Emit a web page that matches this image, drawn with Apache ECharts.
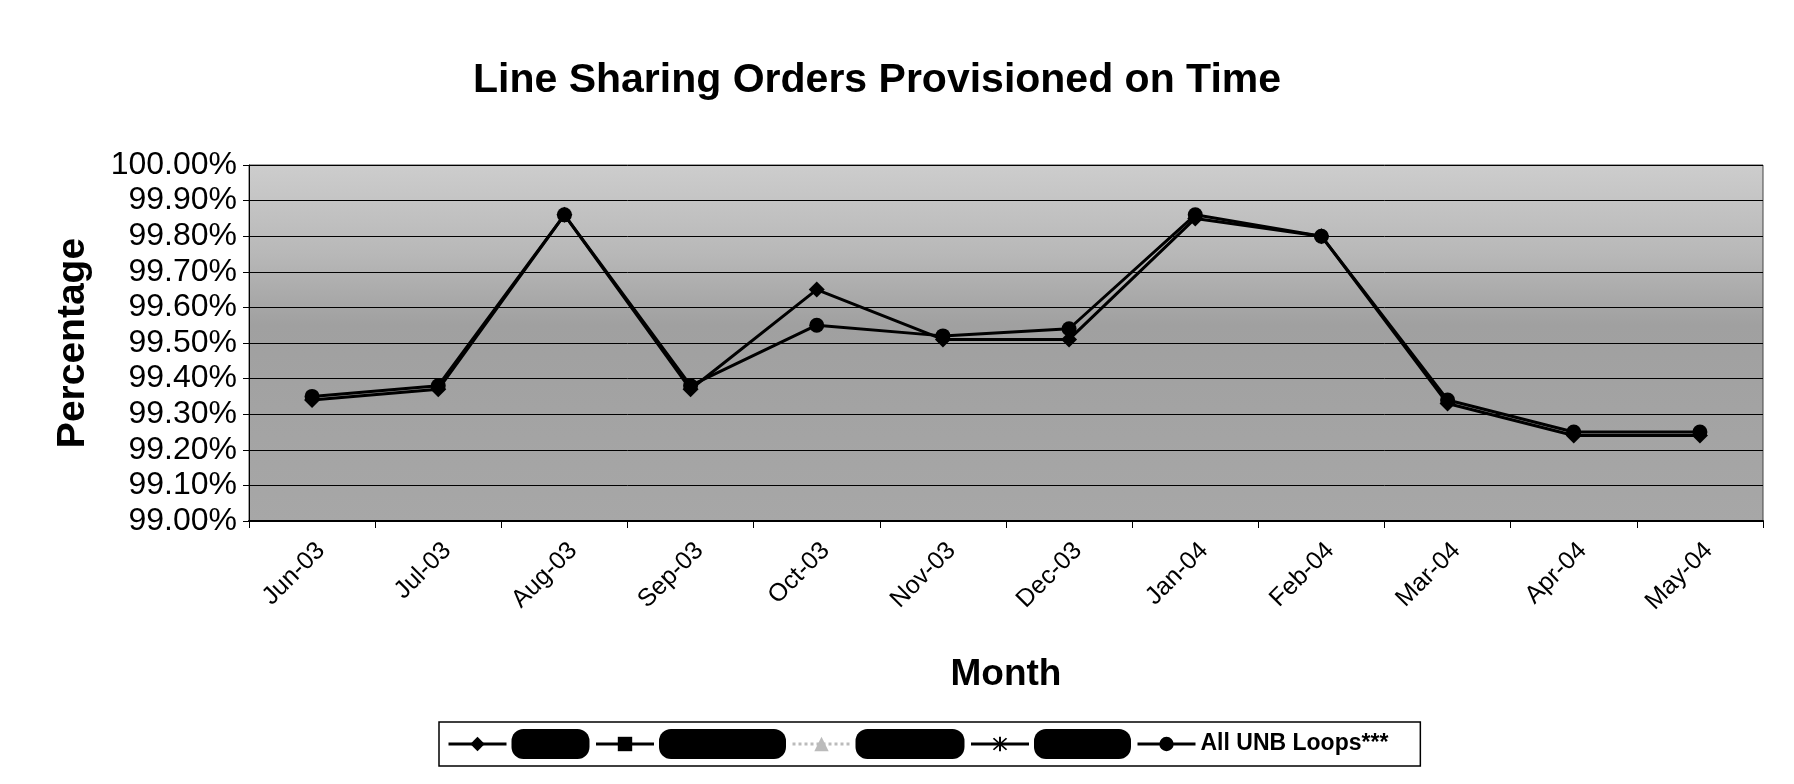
<!DOCTYPE html>
<html>
<head>
<meta charset="utf-8">
<title>Line Sharing Orders Provisioned on Time</title>
<script src="https://cdn.jsdelivr.net/npm/echarts@6/dist/echarts.min.js"></script>
<style>
    html, body { margin: 0; padding: 0; background: #fff; }
    #chart { width: 1794px; height: 784px; }
</style>
</head>
<body>
<div id="chart"></div>
<script>
// months on the x axis
var months = ['Jun-03', 'Jul-03', 'Aug-03', 'Sep-03', 'Oct-03', 'Nov-03',
              'Dec-03', 'Jan-04', 'Feb-04', 'Mar-04', 'Apr-04', 'May-04'];

// series names (first four are blacked out in the source)
var seriesNames = ['Series 1', 'Series 2', 'Series 3', 'Series 4', 'All UNB Loops***'];

// values, in percent
var series1Values = [99.34, 99.37, 99.86, 99.37, 99.65, 99.51, 99.51, 99.85, 99.80, 99.33, 99.24, 99.24];
var series2Values = [];
var series3Values = [];
var series4Values = [];
var allUnbValues  = [99.35, 99.38, 99.86, 99.38, 99.55, 99.52, 99.54, 99.86, 99.80, 99.34, 99.25, 99.25];

// y axis range
var yMin = 99.0;
var yMax = 100.0;
var yStep = 0.1;

document.addEventListener('DOMContentLoaded', function () {
    var chart = echarts.init(document.getElementById('chart'));
    var font = '"Liberation Sans", Arial, sans-serif';

    // asterisk marker
    var asterisk = 'path://M4.4,0H5.6V10H4.4Z M0.6,1.4L1.4,0.6L9.4,8.6L8.6,9.4Z M8.6,0.6L9.4,1.4L1.4,9.4L0.6,8.6Z';

    // widths of the redaction blobs in the legend
    var blobWidths = [78, 127, 109, 97];
    var rich = {};
    blobWidths.forEach(function (w, i) {
        rich['b' + i] = {
            width: w,
            height: 30,
            fontSize: 12,
            backgroundColor: '#000',
            color: '#000',
            borderRadius: 12
        };
    });

    var option = {
        backgroundColor: '#fff',
        animation: false,
        title: {
            text: 'Line Sharing Orders Provisioned on Time',
            left: 468,
            top: 55,
            textStyle: { fontFamily: font, fontSize: 41, fontWeight: 'bold', color: '#000' }
        },
        legend: {
            data: seriesNames,
            left: 439,
            top: 722,
            padding: [7, 32, 7, 8],
            itemGap: 5,
            itemWidth: 58,
            itemHeight: 18,
            borderColor: '#000',
            borderWidth: 1.5,
            lineStyle: { width: 3 },
            formatter: function (name) {
                var i = seriesNames.indexOf(name);
                if (i < 4) return '{b' + i + '|' + name + '}';
                return name;
            },
            textStyle: {
                fontFamily: font, fontSize: 23, fontWeight: 'bold', color: '#000',
                rich: rich
            }
        },
        grid: {
            left: 249,
            right: 31,
            top: 165,
            bottom: 263,
            show: true,
            borderColor: '#444',
            borderWidth: 1,
            backgroundColor: {
                type: 'linear', x: 0, y: 0, x2: 0, y2: 1,
                colorStops: [
                    { offset: 0, color: '#cdcdcd' },
                    { offset: 0.25, color: '#b8b8b8' },
                    { offset: 0.45, color: '#a0a0a0' },
                    { offset: 1, color: '#a7a7a7' }
                ]
            }
        },
        xAxis: {
            type: 'category',
            data: months,
            boundaryGap: true,
            name: 'Month',
            nameLocation: 'middle',
            nameGap: 135,
            nameTextStyle: { fontFamily: font, fontSize: 37, fontWeight: 'bold', color: '#000' },
            axisLine: { lineStyle: { color: '#000', width: 2 } },
            axisTick: { show: true, length: 7, lineStyle: { color: '#000' } },
            axisLabel: {
                rotate: 45,
                margin: 17,
                verticalAlign: 'top',
                fontFamily: font,
                fontSize: 25,
                color: '#000'
            },
            splitLine: { show: false }
        },
        yAxis: {
            type: 'value',
            min: yMin,
            max: yMax,
            interval: yStep,
            name: 'Percentage',
            nameLocation: 'middle',
            nameGap: 156,
            nameTextStyle: { fontFamily: font, fontSize: 39, fontWeight: 'bold', color: '#000' },
            axisLine: { show: true, lineStyle: { color: '#000', width: 1 } },
            axisTick: { show: true, length: 6, lineStyle: { color: '#000' } },
            axisLabel: {
                margin: 12,
                fontFamily: font,
                fontSize: 32,
                color: '#000',
                formatter: function (v) { return v.toFixed(2) + '%'; }
            },
            splitLine: { show: true, lineStyle: { color: '#000', width: 1 } }
        },
        series: [
            {
                name: seriesNames[0],
                type: 'line',
                data: series1Values,
                symbol: 'diamond',
                symbolSize: 16,
                itemStyle: { color: '#000' },
                lineStyle: { color: '#000', width: 3 }
            },
            {
                name: seriesNames[1],
                type: 'line',
                data: series2Values,
                symbol: 'rect',
                symbolSize: 13,
                itemStyle: { color: '#000' },
                lineStyle: { color: '#000', width: 3 }
            },
            {
                name: seriesNames[2],
                type: 'line',
                data: series3Values,
                symbol: 'triangle',
                symbolSize: 14,
                itemStyle: { color: '#bbb' },
                lineStyle: { color: '#bbb', width: 2, type: 'dotted' }
            },
            {
                name: seriesNames[3],
                type: 'line',
                data: series4Values,
                symbol: asterisk,
                symbolSize: 16,
                itemStyle: { color: '#000' },
                lineStyle: { color: '#000', width: 3 }
            },
            {
                name: seriesNames[4],
                type: 'line',
                data: allUnbValues,
                symbol: 'circle',
                symbolSize: 15,
                itemStyle: { color: '#000' },
                lineStyle: { color: '#000', width: 3 }
            }
        ]
    };
    chart.setOption(option);
});
</script>
</body>
</html>
